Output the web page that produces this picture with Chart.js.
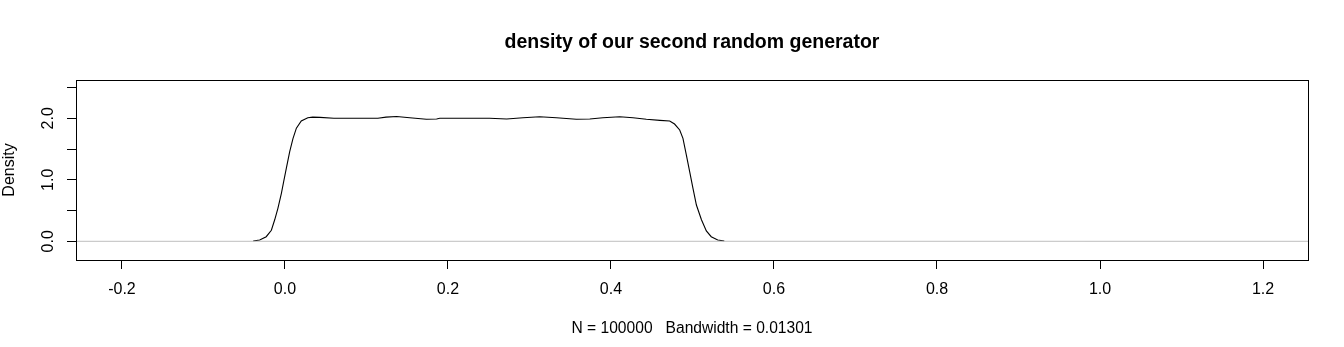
<!DOCTYPE html>
<html>
<head>
<meta charset="utf-8">
<script src="https://cdn.jsdelivr.net/npm/chart.js@4"></script>
<style>
  html, body { margin: 0; padding: 0; background: #fff; }
  #wrap { width: 1344px; height: 347px; }
</style>
</head>
<body>
<div id="wrap"><canvas id="densityChart" width="1344" height="347"></canvas></div>
<script>
// Estimation de densité (noyau gaussien) du second générateur
const densityX = [
  -0.039, -0.031, -0.023, -0.0167, -0.0126, -0.0086, -0.0044, -0.0016,
  0.0017, 0.0058, 0.0098, 0.014, 0.020, 0.028, 0.034, 0.043,
  0.060, 0.085, 0.114, 0.124, 0.137, 0.153, 0.1735, 0.186,
  0.190, 0.220, 0.251, 0.272, 0.292, 0.3125, 0.333, 0.3575,
  0.374, 0.390, 0.4107, 0.427, 0.4434, 0.460, 0.472, 0.478,
  0.4843, 0.4883, 0.4925, 0.4966, 0.5006, 0.5048, 0.511, 0.517,
  0.523, 0.531, 0.539
];
const densityY = [
  0.005, 0.02, 0.075, 0.18, 0.35, 0.54, 0.78, 0.97,
  1.19, 1.46, 1.67, 1.84, 1.956, 2.01, 2.02, 2.015,
  2.0, 2.0, 2.0, 2.02, 2.03, 2.01, 1.984, 1.99,
  2.0, 2.0, 2.0, 1.99, 2.01, 2.026, 2.01, 1.984,
  1.99, 2.01, 2.026, 2.01, 1.984, 1.967, 1.956, 1.907,
  1.81, 1.675, 1.40, 1.13, 0.86, 0.59, 0.35, 0.17,
  0.075, 0.02, 0.005
];

// Axes
const xTicks = [-0.2, 0.0, 0.2, 0.4, 0.6, 0.8, 1.0, 1.2];
const yTicks = [0, 0.5, 1, 1.5, 2, 2.5];
const yLabelled = [0, 1, 2];
const X_MIN = -0.2564, X_MAX = 1.2552;
const Y_MIN = -0.304, Y_MAX = 2.623;

const titre = 'density of our second random generator';
const sousTitre = 'N = 100000   Bandwidth = 0.01301';

const FONT = "'Liberation Sans', Arial, sans-serif";

// Cadre noir autour de la zone de tracé
const cadre = {
  id: 'cadre',
  afterDraw(chart) {
    const { ctx, chartArea: a } = chart;
    ctx.save();
    ctx.strokeStyle = '#000';
    ctx.lineWidth = 1;
    ctx.strokeRect(Math.round(a.left) + 0.5, Math.round(a.top) + 0.5,
      Math.round(a.right - a.left), Math.round(a.bottom - a.top));
    ctx.restore();
  }
};

new Chart(document.getElementById('densityChart').getContext('2d'), {
  type: 'scatter',
  data: {
    datasets: [
      {
        // ligne du zéro
        data: [{ x: X_MIN, y: 0 }, { x: X_MAX, y: 0 }],
        showLine: true,
        borderColor: '#bebebe',
        borderWidth: 1,
        pointRadius: 0,
        tension: 0
      },
      {
        label: 'Density',
        data: densityX.map((x, i) => ({ x: x, y: densityY[i] })),
        showLine: true,
        borderColor: '#000',
        borderWidth: 1.1,
        pointRadius: 0,
        tension: 0
      }
    ]
  },
  options: {
    responsive: false,
    animation: false,
    layout: { padding: { left: 0, right: 36, top: 0, bottom: 0 } },
    plugins: {
      legend: { display: false },
      tooltip: { enabled: false },
      title: {
        display: true,
        text: titre,
        fullSize: false,
        color: '#000',
        font: { family: FONT, size: 19.5, weight: 'bold', lineHeight: 1.25 },
        padding: { top: 30, bottom: 25.625 }
      }
    },
    scales: {
      x: {
        type: 'linear',
        min: X_MIN,
        max: X_MAX,
        afterBuildTicks: s => { s.ticks = xTicks.map(v => ({ value: v })); },
        afterFit: s => { s.height = 87; },
        border: { display: false },
        grid: { drawOnChartArea: false, drawTicks: true, tickLength: 9, tickColor: '#000', tickWidth: 1 },
        ticks: {
          color: '#000',
          font: { family: FONT, size: 16 },
          padding: 11,
          maxRotation: 0,
          autoSkip: false,
          callback: v => v.toFixed(1)
        },
        title: {
          display: true,
          text: sousTitre,
          color: '#000',
          font: { family: FONT, size: 15.6 },
          padding: { top: 0, bottom: 9 }
        }
      },
      y: {
        type: 'linear',
        min: Y_MIN,
        max: Y_MAX,
        afterBuildTicks: s => { s.ticks = yTicks.map(v => ({ value: v })); },
        afterFit: s => { s.width = 76; },
        border: { display: false },
        grid: { drawOnChartArea: false, drawTicks: true, tickLength: 9, tickColor: '#000', tickWidth: 1 },
        ticks: {
          color: '#000',
          font: { family: FONT, size: 16 },
          padding: 7,
          minRotation: 90,
          maxRotation: 90,
          crossAlign: 'center',
          autoSkip: false,
          callback: v => yLabelled.includes(v) ? v.toFixed(1) : ''
        },
        title: {
          display: true,
          text: 'Density',
          color: '#000',
          font: { family: FONT, size: 16 },
          padding: { top: 0, bottom: 0 }
        }
      }
    }
  },
  plugins: [cadre]
});
</script>
</body>
</html>
